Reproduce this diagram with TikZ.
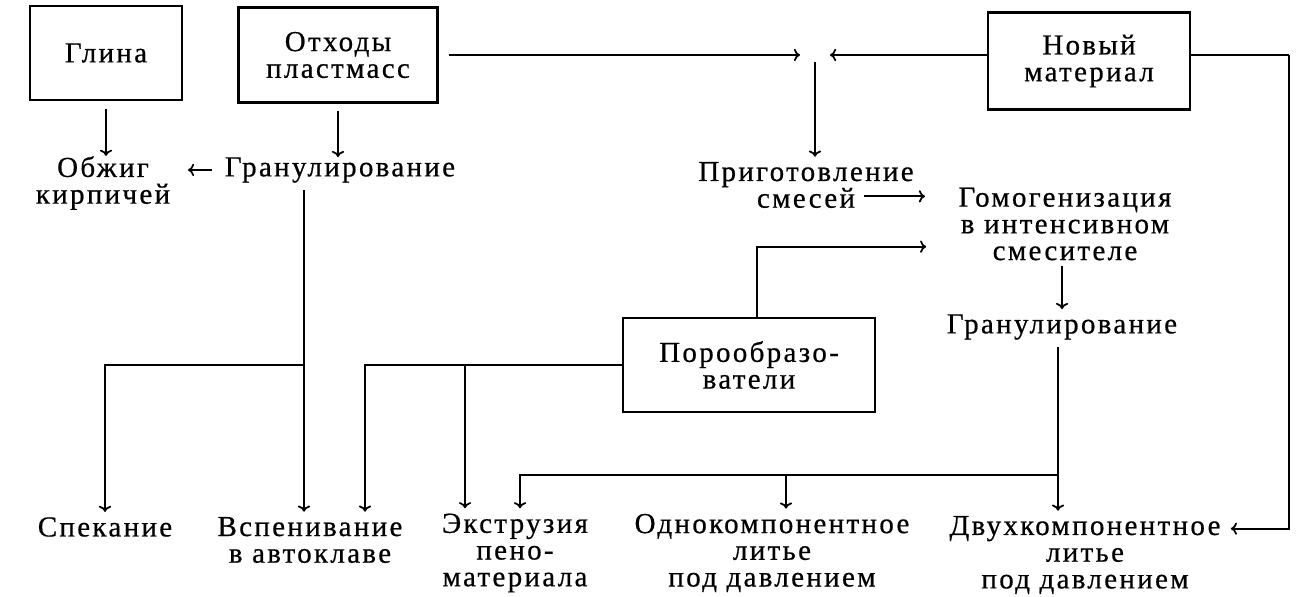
\documentclass[tikz,border=0pt]{standalone}
\usepackage{fontspec}
\setmainfont{Liberation Serif}[LetterSpace=8,FakeBold=0.6]
\usetikzlibrary{calc,arrows.meta}

\begin{document}
\begin{tikzpicture}[x=0.02cm,y=-0.02cm,
  >={To[length=3.5pt,width=7pt]},
  box/.style={draw,line width=1.4pt,inner sep=0pt,align=center},
  lbl/.style={inner sep=0pt,align=center},
  flow/.style={->,line width=1pt},
  font=\fontsize{16.5}{15.2}\selectfont]
\useasboundingbox (0,0) rectangle (1300,597);

\node (glina) [box,minimum width=3.04cm,minimum height=1.88cm] at (106,53) {Глина};
\node (othody) [box,minimum width=3.98cm,minimum height=1.9cm] at (338,55) {Отходы\\пластмасс};
\node (novy) [box,minimum width=4.04cm,minimum height=1.94cm] at (1089,61) {Новый\\материал};
\node (poro) [box,minimum width=5.04cm,minimum height=1.88cm] at (749,365) {Порообразо-\\ватели};

\node (obzhig) [lbl] at (103,183) {Обжиг\\кирпичей};
\node (gran1) [lbl] at (340,170) {Гранулирование};
\node (prig) [lbl] at (806,185) {Приготовление\\смесей};
\node (gomo) [lbl] at (1065,224) {Гомогенизация\\в интенсивном\\смесителе};
\node (gran2) [lbl] at (1062,327) {Гранулирование};

\node (spek) [lbl] at (105,527) {Спекание};
\node (vspen) [lbl] at (310,540) {Вспенивание\\в автоклаве};
\node (ekstr) [lbl] at (515,553) {Экструзия\\пено-\\материала};
\node (odno) [lbl] at (772,553) {Однокомпонентное\\литье\\под давлением};
\node (dvuh) [lbl] at (1085,555) {Двухкомпонентное\\литье\\под давлением};

\coordinate (mix) at (815,55);
\coordinate (rc) at (1289,55);

% top part
\draw [flow,shorten <=1.5mm] (glina.south) -- (glina.south |- obzhig.north);
\draw [flow,shorten <=1.5mm] (othody.south) -- (othody.south |- gran1.north);
\draw [flow,shorten <=2.5mm,shorten >=3.5mm] (gran1.west) -- (obzhig.east |- gran1);
\draw [flow,shorten <=2mm,shorten >=3mm] (othody.east |- mix) -- (mix);
\draw [flow,shorten >=3mm] (novy.west |- mix) -- (mix);
\draw [flow,shorten <=1.5mm,shorten >=1mm] (mix) -- (mix |- prig.north);
\coordinate (s1) at ($(prig.south)+(58,-12)$);
\draw [flow] (s1) -- (s1 -| 925,0);
\draw [flow] (poro.north -| 757,0) |- ($(gomo.south west)+(-32,-14)$);
\draw [flow,shorten <=1mm,shorten >=1mm] (gomo.south -| gran2) -- (gran2.north);

% bottom part
\draw [flow,shorten <=1.5mm,shorten >=1mm] (gran1.south -| 304,0) -- (304,0 |- vspen.north);
\draw [flow,shorten >=1mm] (304,0 |- poro.west) -| (spek.north);
\draw [flow,shorten >=1mm] (poro.west) -| ($(vspen.north)+(55,0)$);
\draw [flow,shorten >=1mm] ($(poro.west -| ekstr.north)+(-50,0)$) -- ($(ekstr.north)+(-50,0)$);
\draw [flow,shorten <=1.5mm,shorten >=1mm] (gran2.south -| 1058,0) -- (1058,0 |- dvuh.north);
\coordinate (j2) at ($(gran2.south -| 1058,0)+(0,135)$);
\draw [flow,shorten >=1mm] (j2) -| ($(ekstr.north)+(5,0)$);
\draw [flow,shorten >=1mm] ($(j2 -| odno)+(14,0)$) -- ($(odno.north)+(14,0)$);
\draw [line width=1pt] (novy.east |- mix) -- (rc);
\draw [flow,shorten >=2mm] (rc) |- ($(dvuh.north east)+(0,13)$);
\end{tikzpicture}
\end{document}
